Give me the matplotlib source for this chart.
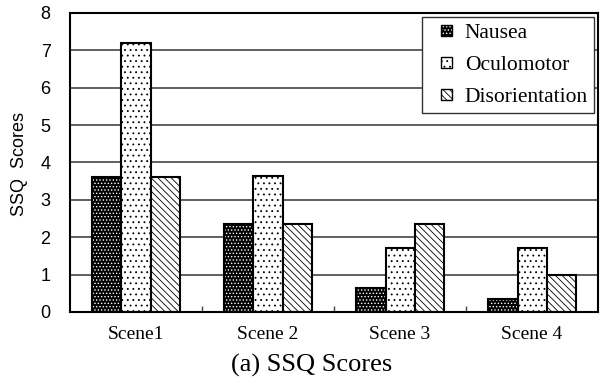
import numpy as np
import matplotlib
matplotlib.use("Agg")
import matplotlib.pyplot as plt
from matplotlib.patches import Patch, Rectangle
from matplotlib.legend_handler import HandlerPatch

scenes = ["Scene1", "Scene 2", "Scene 3", "Scene 4"]
nausea = [3.6, 2.35, 0.65, 0.35]
oculomotor = [7.2, 3.65, 1.7, 1.7]
disorientation = [3.6, 2.35, 2.35, 1.0]

plt.rcParams['hatch.linewidth'] = 0.6

fig = plt.figure(figsize=(6.02, 3.80), dpi=100)
ax = fig.add_axes([0.1163, 0.179, 0.8771, 0.7868])

x = np.arange(len(scenes))
w = 0.22

# nausea: black with white dots, then black outline on top
ax.bar(x - w, nausea, w, color='black', edgecolor='white', linewidth=0, hatch='.....', zorder=2)
ax.bar(x - w, nausea, w, fill=False, edgecolor='black', linewidth=1.5, zorder=3)
ax.bar(x, oculomotor, w, color='white', edgecolor='black', linewidth=1.5, hatch='...', zorder=2)
ax.bar(x + w, disorientation, w, color='white', edgecolor='black', linewidth=1.5,
       hatch='\\\\\\\\\\', zorder=2)

ax.set_xlim(-0.5, 3.5)
ax.set_ylim(0, 8)
ax.set_yticks(range(0, 9))
ax.yaxis.grid(True, color='#444444', linewidth=1.2, zorder=0)
ax.set_axisbelow(True)
ax.tick_params(axis='y', length=0, pad=14, labelsize=13)
for t in ax.get_yticklabels():
    t.set_fontfamily('Liberation Sans')

ax.set_xticks(x)
ax.set_xticklabels(scenes, fontfamily='Liberation Serif', fontsize=14)
ax.tick_params(axis='x', length=0, pad=10)
ax.set_xticks([0.5, 1.5, 2.5], minor=True)
ax.tick_params(axis='x', which='minor', direction='in', length=4, width=1, color='#444444')

for s in ax.spines.values():
    s.set_linewidth(1.5)
    s.set_color('black')
    s.set_zorder(5)

fig.text(0.033, 0.568, "SSQ  Scores", rotation=90, ha='center', va='center',
         fontfamily='Liberation Sans', fontsize=13)


# small square legend keys, pushed to the right of the handle box
def square(legend, orig_handle, xdescent, ydescent, width, height, fontsize):
    s = 0.5 * fontsize
    return Rectangle((-xdescent + width - s, -ydescent + (height - s) / 2), s, s)


handles = [(Patch(facecolor='black', edgecolor='white', linewidth=0, hatch='.....'),
            Patch(fill=False, edgecolor='black', linewidth=1)),
           Patch(facecolor='white', edgecolor='black', linewidth=1, hatch='...'),
           Patch(facecolor='white', edgecolor='black', linewidth=1, hatch='\\\\\\\\\\')]
leg = ax.legend(handles, ["Nausea", "Oculomotor", "Disorientation"],
                handler_map={Patch: HandlerPatch(patch_func=square)},
                loc='upper right', bbox_to_anchor=(0.993, 0.988), borderaxespad=0,
                fancybox=False, framealpha=1, edgecolor='#333333',
                prop={'family': 'Liberation Serif', 'size': 15.5},
                handlelength=1.1, handleheight=0.7, handletextpad=0.6,
                labelspacing=0.55, borderpad=0.3)
leg.get_frame().set_linewidth(1)
leg.set_zorder(6)

fig.text(0.518, 0.039, "(a) SSQ Scores", ha='center', va='center',
         fontfamily='Liberation Serif', fontsize=19)

fig.savefig("out.png", dpi=100)
